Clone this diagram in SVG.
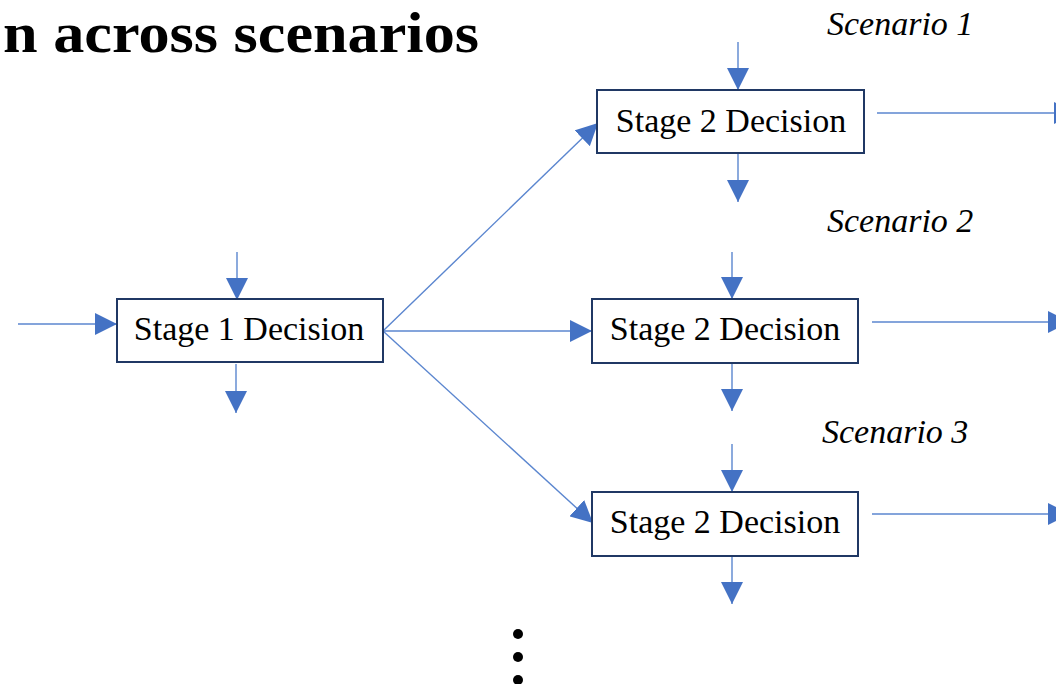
<svg xmlns="http://www.w3.org/2000/svg" width="1056" height="684" viewBox="0 0 1056 684">
  <style>
    .box { fill: #ffffff; stroke: #203864; stroke-width: 2; }
    .lbl { font-family: "Liberation Serif", "Times New Roman", serif; font-size: 34px; fill: #000; text-anchor: middle; }
    .scn { font-family: "Liberation Serif", "Times New Roman", serif; font-size: 34px; font-style: italic; fill: #000; }
    .title { font-family: "Liberation Serif", "Times New Roman", serif; font-size: 58px; font-weight: bold; fill: #000; }
    .conn { stroke: #5B86CF; stroke-width: 1.4; fill: none; marker-end: url(#ah); }
  </style>
  <defs>
    <marker id="ah" markerUnits="userSpaceOnUse" markerWidth="22" markerHeight="22" viewBox="0 0 22 22" refX="22" refY="11" orient="auto">
      <path d="M0,0 L22,11 L0,22 Z" fill="#4472C4"/>
    </marker>
  </defs>
  <rect width="1056" height="684" fill="#ffffff"/>

  <text class="title" x="3" y="52" textLength="476" lengthAdjust="spacingAndGlyphs">n across scenarios</text>

  <g id="scenario-labels">
    <text class="scn" x="827" y="35">Scenario 1</text>
    <text class="scn" x="827" y="232">Scenario 2</text>
    <text class="scn" x="822" y="443">Scenario 3</text>
  </g>

  <g id="connectors">
    <!-- Stage 1 -->
    <line class="conn" x1="18" y1="324" x2="117" y2="324"/>
    <line class="conn" x1="237" y1="252" x2="237" y2="300"/>
    <line class="conn" x1="236" y1="364" x2="236" y2="413"/>
    <!-- fan out -->
    <line class="conn" x1="383" y1="331" x2="598" y2="123"/>
    <line class="conn" x1="383" y1="331" x2="592" y2="331"/>
    <line class="conn" x1="383" y1="331" x2="593" y2="523"/>
    <!-- Stage 2, scenario 1 -->
    <line class="conn" x1="738" y1="42" x2="738" y2="90"/>
    <line class="conn" x1="738" y1="154" x2="738" y2="202"/>
    <line class="conn" x1="877" y1="113" x2="1076" y2="113"/>
    <!-- Stage 2, scenario 2 -->
    <line class="conn" x1="732" y1="252" x2="732" y2="299"/>
    <line class="conn" x1="732" y1="364" x2="732" y2="411"/>
    <line class="conn" x1="872" y1="322" x2="1070" y2="322"/>
    <!-- Stage 2, scenario 3 -->
    <line class="conn" x1="732" y1="444" x2="732" y2="492"/>
    <line class="conn" x1="732" y1="557" x2="732" y2="604"/>
    <line class="conn" x1="872" y1="514" x2="1070" y2="514"/>
  </g>

  <g id="stage1">
    <rect class="box" x="117" y="299" width="266" height="63"/>
    <text class="lbl" x="249" y="340">Stage 1 Decision</text>
  </g>
  <g id="stage2-s1">
    <rect class="box" x="597" y="90" width="267" height="63"/>
    <text class="lbl" x="731" y="132">Stage 2 Decision</text>
  </g>
  <g id="stage2-s2">
    <rect class="box" x="592" y="299" width="266" height="64"/>
    <text class="lbl" x="725" y="340">Stage 2 Decision</text>
  </g>
  <g id="stage2-s3">
    <rect class="box" x="592" y="492" width="266" height="64"/>
    <text class="lbl" x="725" y="533">Stage 2 Decision</text>
  </g>

  <g id="ellipsis" fill="#000">
    <circle cx="518" cy="634" r="5"/>
    <circle cx="518" cy="657" r="5"/>
    <circle cx="518" cy="680" r="5"/>
  </g>
</svg>
